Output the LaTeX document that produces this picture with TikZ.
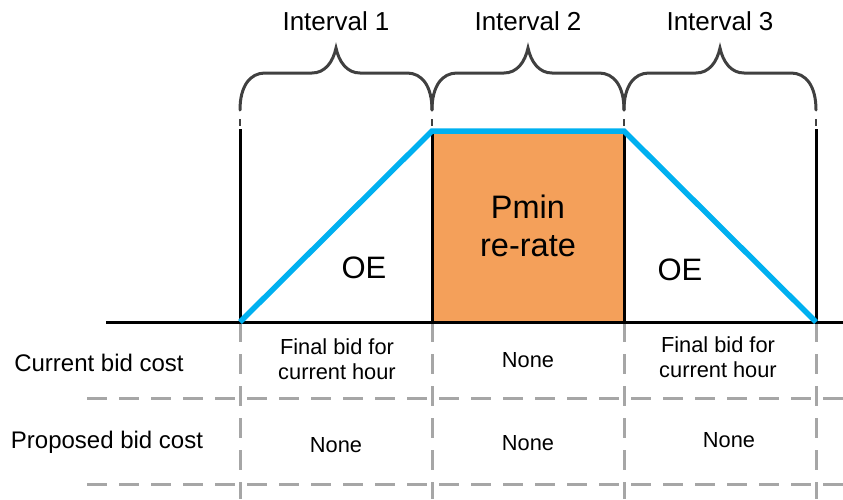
\documentclass[tikz,border=0pt]{standalone}
\usepackage{fontspec}
\setmainfont{Liberation Sans}
\definecolor{orng}{HTML}{F4A05A}
\definecolor{blu}{HTML}{00B0F0}
\definecolor{gry}{HTML}{A6A6A6}
\definecolor{brc}{HTML}{404040}
\tikzset{
  hdr/.style={font=\fontsize{26}{31}\selectfont, inner sep=0pt},
  big/.style={font=\fontsize{32.5}{38}\selectfont, align=center, inner sep=0pt},
  oelbl/.style={font=\fontsize{31}{36}\selectfont, inner sep=0pt},
  rowlbl/.style={font=\fontsize{24}{28}\selectfont, inner sep=0pt},
  cell/.style={font=\fontsize{21.8}{25}\selectfont, align=center, inner sep=0pt},
  axis/.style={line width=3pt, black},
  ramp/.style={line width=5.5pt, blu, line join=miter},
  grid/.style={line width=3pt, gry, dash pattern=on 20pt off 12pt},
  bracestyle/.style={line width=3pt, brc, line cap=round},
}
\begin{document}
\begin{tikzpicture}[x=1pt,y=-1pt]
\useasboundingbox (0,0) rectangle (843,499);
% coordinates
\foreach \i/\xx in {0/240,1/432,2/624,3/816}{
  \coordinate (top\i) at (\xx,129);
  \coordinate (base\i) at (\xx,322);
  \coordinate (bot\i) at (\xx,499);
  \coordinate (tk\i) at (\xx,119);
  \coordinate (tkb\i) at (\xx,126);
}
\coordinate (axL) at (106,322);
\coordinate (axR) at (843,322);
\coordinate (r1L) at (87,398);
\coordinate (r1R) at (843,398);
\coordinate (r2L) at (87,484);
\coordinate (r2R) at (843,484);
% orange area
\fill[orng] (top1) rectangle (base2);
% verticals
\foreach \i in {0,1,2,3}{
  \draw[axis] (top\i) -- (base\i);
  \draw[line width=2.5pt, brc] (tk\i) -- (tkb\i);
  \draw[grid] (base\i) -- (bot\i);
}
% baseline
\draw[axis] (axL) -- (axR);
% ramp
\draw[ramp] (base0) -- (432,131) -- (624,131) -- (base3);
% horizontal dashed rows
\draw[grid] (r1L) -- (r1R);
\draw[grid] (r2L) -- (r2R);
% braces
\foreach \xx in {240,432,624}{
  \draw[bracestyle] (\xx,110) .. controls (\xx,86) and (\xx+10,73) .. (\xx+25,73)
    -- (\xx+72,73) .. controls (\xx+85,73) and (\xx+93,62) .. (\xx+96,48)
    .. controls (\xx+99,62) and (\xx+107,73) .. (\xx+120,73)
    -- (\xx+167,73) .. controls (\xx+182,73) and (\xx+192,86) .. (\xx+192,110);
}
% labels
\node[hdr] (int1) at (336,21) {Interval 1};
\node[hdr] (int2) at (528,21) {Interval 2};
\node[hdr] (int3) at (720,21) {Interval 3};
\node[big] (pmin) at (528,226) {Pmin\\re-rate};
\node[oelbl] (oe1) at (364,268) {OE};
\node[oelbl] (oe2) at (680,270) {OE};
\node[rowlbl] (cur) at (99,363) {Current bid cost};
\node[rowlbl] (prop) at (107,442) {Proposed bid cost};
\node[cell] (c11) at (337,359) {Final bid for\\current hour};
\node[cell] (c12) at (528,360) {None};
\node[cell] (c13) at (718,357) {Final bid for\\current hour};
\node[cell] (c21) at (336,445) {None};
\node[cell] (c22) at (528,443) {None};
\node[cell] (c23) at (729,440) {None};
\end{tikzpicture}
\end{document}
